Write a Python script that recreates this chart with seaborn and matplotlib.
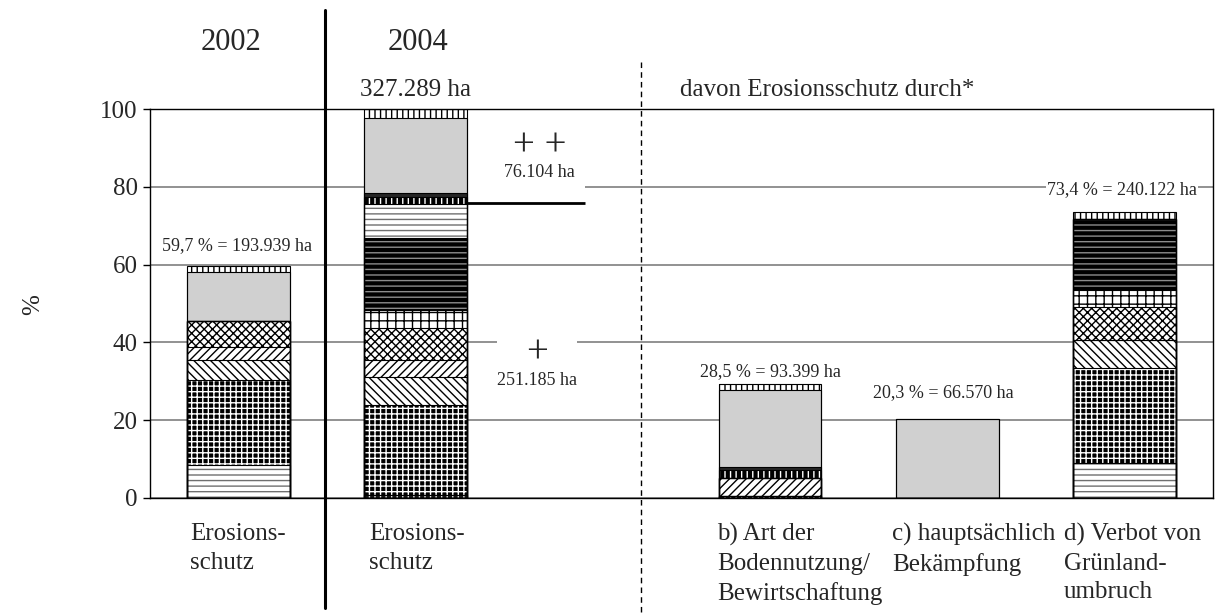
import numpy as np
import pandas as pd
import matplotlib
matplotlib.use("Agg")
import matplotlib.pyplot as plt
from matplotlib.patches import Rectangle
import seaborn as sns


# bars: 2002, 2004 total, then b), c), d) of 2004
bars = ["2002", "2004", "b", "c", "d"]

# segment values in %, bottom to top of every stack
seg_bottom_dark = [0.0, 0.8, 0.6, 0.0, 0.0]
seg_hstripe = [8.5, 0.0, 0.0, 0.0, 9.0]
seg_blackgrid = [21.8, 23.1, 0.0, 0.0, 24.4]
seg_bdiag = [5.2, 7.2, 0.0, 0.0, 7.2]
seg_fdiag = [3.3, 4.4, 4.6, 0.0, 0.0]
seg_xdots = [6.7, 8.2, 0.0, 0.0, 8.5]
seg_wgrid = [0.0, 4.6, 0.0, 0.0, 4.4]
seg_bstripe = [0.0, 18.5, 0.0, 0.0, 18.2]
seg_hstripe2 = [0.0, 8.8, 0.0, 0.0, 0.0]
seg_dotband = [0.0, 1.9, 1.9, 0.0, 0.0]
seg_darkband = [0.0, 1.0, 0.8, 0.0, 0.0]
seg_gray = [12.5, 19.2, 19.9, 20.3, 0.0]
seg_top = [1.7, 2.3, 1.5, 0.0, 1.7]

bar_labels = ["59,7 % = 193.939 ha", "327.289 ha", "28,5 % = 93.399 ha",
              "20,3 % = 66.570 ha", "73,4 % = 240.122 ha"]
cat_labels = ["Erosions-\nschutz", "Erosions-\nschutz",
              "b) Art der\nBodennutzung/\nBewirtschaftung",
              "c) hauptsächlich\nBekämpfung",
              "d) Verbot von\nGrünland-\numbruch"]
years = ["2002", "2004"]
yticks = [0, 20, 40, 60, 80, 100]

segment_names = ["bottom_dark", "hstripe", "blackgrid", "bdiag", "fdiag", "xdots",
                 "wgrid", "bstripe", "hstripe2", "dotband", "darkband", "gray", "top"]
segments = [seg_bottom_dark, seg_hstripe, seg_blackgrid, seg_bdiag, seg_fdiag,
            seg_xdots, seg_wgrid, seg_bstripe, seg_hstripe2, seg_dotband,
            seg_darkband, seg_gray, seg_top]

# (facecolor, hatch, hatch colour)
styles = {
    "bottom_dark": ("#1a1a1a", "|||", "white"),
    "hstripe": ("white", "---", "#6f6f6f"),
    "blackgrid": ("black", "+++", "white"),
    "bdiag": ("white", "\\\\\\\\", "black"),
    "fdiag": ("white", "////", "black"),
    "xdots": ("white", "xxxx", "black"),
    "wgrid": ("white", "++", "black"),
    "bstripe": ("black", "---", "#8c8c8c"),
    "hstripe2": ("white", "---", "#6f6f6f"),
    "dotband": ("black", "|||", "white"),
    "darkband": ("#262626", None, "#262626"),
    "gray": ("#d0d0d0", None, "#d0d0d0"),
    "top": ("white", "|||", "black"),
}

slot_of_bar = {"2002": 0, "2004": 1, "b": 3, "c": 4, "d": 5}
BAR_W = 0.58


def main():
    sns.set_style("white")
    plt.rcParams["font.family"] = ["Liberation Serif", "DejaVu Serif"]
    plt.rcParams["hatch.linewidth"] = 1.0

    df = pd.DataFrame(dict(zip(segment_names, segments)), index=bars)
    cum = df.cumsum(axis=1)
    xpos = [slot_of_bar[b] for b in bars]

    fig = plt.figure(figsize=(12.2, 6.13), dpi=100)
    ax = fig.add_axes([150 / 1220, 1 - 498 / 613, 1063 / 1220, 389 / 613])

    # fills: draw cumulative heights from the top series down
    for name in reversed(segment_names):
        face, hatch, hcol = styles[name]
        sns.barplot(x=xpos, y=cum[name].values, native_scale=True, orient="x",
                    width=BAR_W, color=face, saturation=1, hatch=hatch,
                    edgecolor=hcol, linewidth=0, errorbar=None, ax=ax, zorder=2)
    # outlines
    for name in segment_names:
        sns.barplot(x=xpos, y=cum[name].values, native_scale=True, orient="x",
                    width=BAR_W, fill=False, color="black", linewidth=0.8,
                    errorbar=None, ax=ax, zorder=2.5)

    ax.set_xlim(-0.5, 5.5)
    ax.set_ylim(0, 100)
    ax.set_xticks([])
    ax.set_yticks(yticks)
    ax.set_xlabel("")
    ax.set_ylabel("")
    ax.tick_params(axis="y", left=True, length=5, width=1, direction="out",
                   labelsize=18, pad=4, color="black")
    ax.yaxis.grid(True, color="#7f7f7f", linewidth=1.2)
    ax.set_axisbelow(True)
    for sp in ax.spines.values():
        sp.set_color("black")
        sp.set_linewidth(1.0)

    ax.text(-0.11, 0.496, "%", transform=ax.transAxes, rotation=90,
            ha="center", va="center", fontsize=18)

    # separators
    xt = ax.get_xaxis_transform()
    ax.plot([0.49, 0.49], [1.2545, -0.283], transform=xt, color="black",
            linewidth=2.2, clip_on=False, zorder=4)
    ax.plot([2.27, 2.27], [1.121, -0.296], transform=xt, color="black",
            linewidth=1.0, linestyle=(0, (4, 3)), clip_on=False, zorder=4)

    # white boxes breaking the gridlines behind the + labels
    ax.add_patch(Rectangle((1 + BAR_W / 2, 76.6), 0.665, 18.0,
                           facecolor="white", edgecolor="none", zorder=1.5))
    ax.add_patch(Rectangle((1.458, 34.0), 0.452, 10.0,
                           facecolor="white", edgecolor="none", zorder=1.5))
    ax.plot([1 + BAR_W / 2, 1.955], [75.8, 75.8], color="black", linewidth=2.0,
            solid_capstyle="butt", zorder=4)

    ax.text(1.70, 90.7, "+ +", ha="center", va="center", fontsize=28)
    ax.text(1.70, 83.8, "76.104 ha", ha="center", va="center", fontsize=13)
    ax.text(1.684, 37.3, "+", ha="center", va="center", fontsize=28)
    ax.text(1.684, 30.1, "251.185 ha", ha="center", va="center", fontsize=13)

    # year headers
    ax.text(-0.043, 117.0, years[0], ha="center", va="center", fontsize=22)
    ax.text(1.013, 117.0, years[1], ha="center", va="center", fontsize=22)
    ax.text(3.32, 104.9, "davon Erosionsschutz durch*", ha="center",
            va="center", fontsize=18)

    # value labels above bars
    lab_pos = [(-0.009, 64.8, 13), (1.001, 104.9, 18), (3.0, 32.6, 13),
               (3.98, 27.0, 13), (4.986, 79.2, 13)]
    for (lx, ly, fs), txt in zip(lab_pos, bar_labels):
        kw = {}
        if txt.startswith("73,4"):
            kw["bbox"] = dict(facecolor="white", edgecolor="none", pad=1)
        ax.text(lx, ly, txt, ha="center", va="center", fontsize=fs, zorder=3, **kw)

    # category labels under the axis
    cat_x = [-0.274, 0.736, 2.70, 3.69, 4.66]
    for cx, txt in zip(cat_x, cat_labels):
        ax.text(cx, -6.5, txt, ha="left", va="top", fontsize=18, linespacing=1.38)

    plt.savefig("out.png", dpi=100)
    plt.close()


if __name__ == "__main__":
    main()
